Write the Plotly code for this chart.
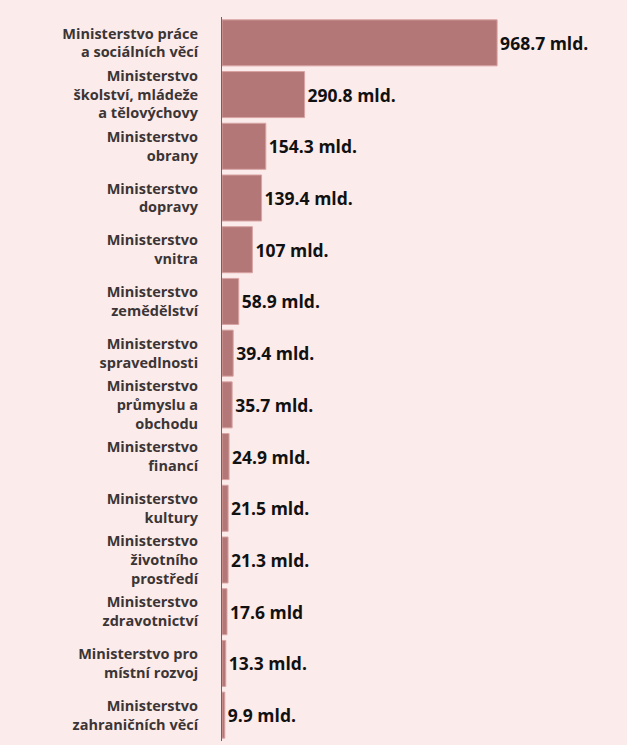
import plotly.graph_objects as go

categories = [
    "Ministerstvo práce<br>a sociálních věcí",
    "Ministerstvo<br>školství, mládeže<br>a tělovýchovy",
    "Ministerstvo<br>obrany",
    "Ministerstvo<br>dopravy",
    "Ministerstvo<br>vnitra",
    "Ministerstvo<br>zemědělství",
    "Ministerstvo<br>spravedlnosti",
    "Ministerstvo<br>průmyslu a<br>obchodu",
    "Ministerstvo<br>financí",
    "Ministerstvo<br>kultury",
    "Ministerstvo<br>životního<br>prostředí",
    "Ministerstvo<br>zdravotnictví",
    "Ministerstvo pro<br>místní rozvoj",
    "Ministerstvo<br>zahraničních věcí",
]
values = [968.7, 290.8, 154.3, 139.4, 107, 58.9, 39.4, 35.7, 24.9, 21.5, 21.3, 17.6, 13.3, 9.9]
value_labels = ["968.7 mld.", "290.8 mld.", "154.3 mld.", "139.4 mld.", "107 mld.", "58.9 mld.",
                "39.4 mld.", "35.7 mld.", "24.9 mld.", "21.5 mld.", "21.3 mld.", "17.6 mld",
                "13.3 mld.", "9.9 mld."]

BG = "#fcebeb"

fig = go.Figure(go.Bar(
    x=values, y=categories, orientation="h",
    marker=dict(color="#b27776", line=dict(color="#d9a3a3", width=1)),
    text=value_labels, textposition="outside",
    textfont=dict(family="Open Sans", size=17.5, color="#111111", weight=700),
    cliponaxis=False, hoverinfo="skip",
))

fig.update_layout(
    width=627, height=745,
    margin=dict(l=222, r=0, t=17, b=4),
    paper_bgcolor=BG, plot_bgcolor=BG,
    bargap=0.11,
    showlegend=False,
    xaxis=dict(range=[0, 1426], showgrid=False, zeroline=False, showticklabels=False,
               showline=False, fixedrange=True),
    yaxis=dict(autorange="reversed", showgrid=False, zeroline=False,
               showline=True, linecolor="#6e6262", linewidth=1,
               ticks="", ticklabelstandoff=20, fixedrange=True,
               tickfont=dict(family="Open Sans", size=14.5, color="#3b3535", weight=700)),
)

fig.write_html("out.html", config={"displayModeBar": False, "staticPlot": True},
               post_script="document.body.style.margin='0';document.body.style.background='%s';" % BG)
